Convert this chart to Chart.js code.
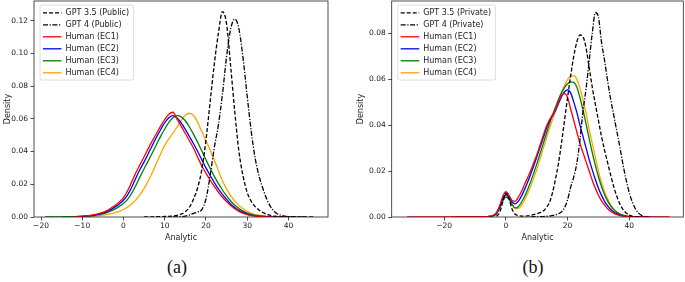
<!DOCTYPE html>
<html>
<head>
<meta charset="utf-8">
<script src="https://cdn.jsdelivr.net/npm/chart.js@4"></script>
<style>
  body { margin: 0; background: #fff; }
  #wrap { position: relative; width: 685px; height: 282px; }
  #chartA { position: absolute; left: 0; top: 0; }
  #chartB { position: absolute; left: 340px; top: 0; }
  .cap { position: absolute; top: 257px; font: 18px "Liberation Serif", serif; color: #111; transform: translateX(-50%); }
</style>
</head>
<body>
<div id="wrap">
  <canvas id="chartA" width="340" height="250"></canvas>
  <canvas id="chartB" width="345" height="250"></canvas>
  <div class="cap" style="left:177px">(a)</div>
  <div class="cap" style="left:533px">(b)</div>
</div>
<script>
//Data (a) public, x grid -19..46

const xL = [];
for (let v = -19; v <= 46; v++) xL.push(v);

const ec1L = [null,null,null,null,null,null,null,
  0.0002,0.0003,0.0005,0.0007,0.0010,0.0014,0.0020,0.0028,0.0040,0.0055,0.0072,0.0092,
  0.0118,0.0160,0.0215,0.0270,0.0320,0.0368,0.0418,0.0465,0.0510,0.0555,0.0595,0.0628,
  0.0640,0.0598,0.0555,0.0510,0.0466,0.0420,0.0365,0.0312,0.0268,0.0226,0.0188,0.0152,
  0.0121,0.0094,0.0070,0.0050,0.0034,0.0023,0.0015,0.0009,0.0006,0.0004,0.0002,0.0001,
  0.0001,0,0,0,0,null,null,null,null,null,null];
const ec2L = [null,null,null,null,null,null,null,
  0.0001,0.0002,0.0004,0.0006,0.0009,0.0012,0.0017,0.0024,0.0034,0.0047,0.0062,0.0080,
  0.0102,0.0135,0.0182,0.0238,0.0290,0.0337,0.0387,0.0437,0.0487,0.0533,0.0576,0.0607,
  0.0620,0.0605,0.0575,0.0535,0.0492,0.0448,0.0400,0.0350,0.0300,0.0255,0.0212,0.0172,
  0.0138,0.0107,0.0080,0.0058,0.0041,0.0028,0.0018,0.0011,0.0007,0.0004,0.0003,0.0002,
  0.0001,0.0001,0,0,0,0,null,null,null,null,null];
const ec3L = [0,0.0001,0.0001,0.0001,0.0001,0.0002,0.0002,
  0.0002,0.0003,0.0004,0.0005,0.0007,0.0010,0.0014,0.0019,0.0027,0.0037,0.0050,0.0065,
  0.0083,0.0108,0.0145,0.0192,0.0245,0.0295,0.0343,0.0393,0.0443,0.0493,0.0538,0.0578,
  0.0606,0.0620,0.0612,0.0588,0.0550,0.0505,0.0455,0.0403,0.0350,0.0298,0.0250,0.0205,
  0.0165,0.0129,0.0098,0.0072,0.0052,0.0036,0.0024,0.0016,0.0010,0.0006,0.0004,0.0002,
  0.0001,0.0001,0,0,0,null,null,null,null,null,null];
const ec4L = [null,null,null,null,null,null,null,
  0.0001,0.0002,0.0002,0.0003,0.0004,0.0006,0.0008,0.0011,0.0015,0.0020,0.0027,0.0035,
  0.0046,0.0060,0.0080,0.0105,0.0137,0.0175,0.0220,0.0272,0.0328,0.0385,0.0438,0.0478,
  0.0512,0.0550,0.0590,0.0622,0.0634,0.0620,0.0578,0.0522,0.0465,0.0410,0.0350,0.0285,
  0.0222,0.0172,0.0130,0.0097,0.0071,0.0050,0.0034,0.0023,0.0015,0.0010,0.0006,0.0004,
  0.0002,0.0001,0,0,0,null,null,null,null,null,null];
const gpt35L = [null,null,null,null,null,null,null,null,null,null,null,null,
  null,null,null,null,null,null,null,null,null,null,null,null,
  0,0.0001,0.0001,0.0002,0.0002,0.0003,0.0004,0.0006,0.0010,0.0018,0.0032,0.0060,
  0.0110,0.0180,0.0290,0.0470,0.0700,0.0930,0.1120,0.1255,0.1180,0.0920,0.0640,0.0400,
  0.0250,0.0150,0.0095,0.0062,0.0040,0.0025,0.0014,0.0007,0.0004,0.0002,0.0001,0.0001,
  0,0,0,0,0,0];
const gpt4L = [null,null,null,null,null,null,null,null,null,null,null,null,null,null,null,
  null,null,null,null,null,null,null,null,null,null,null,null,null,null,null,null,
  0,0.0001,0.0002,0.0005,0.0012,0.0022,0.0030,0.0045,0.0110,0.0250,0.0420,0.0560,
  0.0750,0.0980,0.1150,0.1210,0.1150,0.0970,0.0740,0.0520,0.0350,0.0240,0.0160,0.0095,
  0.0050,0.0025,0.0012,0.0006,0.0003,0.0002,0.0001,0,0,null,null];

const xTicksL = [-20, -10, 0, 10, 20, 30, 40];
const yTicksL = [0, 0.02, 0.04, 0.06, 0.08, 0.10, 0.12];

//------------------------------------------

//Data (b) private

const xR = [-32,-28,-24,-20,-16,-14,-12,-10,-8];
for (let v = -7; v <= 47; v++) xR.push(v);
xR.push(50, 53);

const ec1R = [0,0,0,0,0.0001,0.0001,0.0001,0.0001,0.0001,
  0.0002,0.0002,0.0004,0.0008,0.0020,0.0050,0.0090,
  0.0110,0.0095,0.0072,0.0068,0.0085,0.0110,0.0140,0.0170,0.0200,0.0235,
  0.0270,0.0310,0.0350,0.0390,0.0420,0.0442,0.0465,0.0500,0.0528,0.0537,
  0.0520,0.0470,0.0420,0.0370,0.0320,0.0280,0.0240,0.0200,0.0160,0.0125,
  0.0095,0.0070,0.0052,0.0036,0.0024,0.0016,0.0010,0.0006,0.0004,0.0002,
  0.0001,0.0001,0,0,0,0,0,0,
  0,0];
const ec2R = [null,null,null,null,null,0,0.0001,0.0001,0.0001,
  0.0001,0.0002,0.0003,0.0007,0.0018,0.0045,0.0080,
  0.0098,0.0086,0.0065,0.0057,0.0068,0.0090,0.0118,0.0150,0.0185,0.0222,
  0.0260,0.0300,0.0340,0.0380,0.0415,0.0438,0.0460,0.0492,0.0522,0.0545,
  0.0553,0.0540,0.0500,0.0455,0.0400,0.0350,0.0300,0.0250,0.0205,0.0163,
  0.0125,0.0094,0.0068,0.0048,0.0033,0.0022,0.0014,0.0009,0.0005,0.0003,
  0.0002,0.0001,0,0,0,0,0,0,
  null,null];
const ec3R = [null,null,null,null,null,null,null,0,0.0001,
  0.0001,0.0001,0.0002,0.0005,0.0014,0.0038,0.0070,
  0.0087,0.0078,0.0055,0.0040,0.0045,0.0063,0.0088,0.0118,0.0152,0.0190,
  0.0230,0.0272,0.0315,0.0358,0.0400,0.0440,0.0475,0.0510,0.0540,0.0563,
  0.0580,0.0588,0.0586,0.0565,0.0520,0.0465,0.0405,0.0340,0.0280,0.0225,
  0.0175,0.0132,0.0097,0.0069,0.0047,0.0031,0.0020,0.0012,0.0007,0.0004,
  0.0002,0.0001,0,0,0,0,0,null,
  null,null];
const ec4R = [null,null,null,null,null,null,0,0.0001,0.0001,
  0.0001,0.0002,0.0003,0.0006,0.0016,0.0042,0.0078,
  0.0094,0.0083,0.0055,0.0037,0.0037,0.0050,0.0072,0.0100,0.0132,0.0168,
  0.0207,0.0250,0.0293,0.0337,0.0380,0.0420,0.0460,0.0500,0.0540,0.0573,
  0.0598,0.0612,0.0615,0.0600,0.0560,0.0510,0.0450,0.0380,0.0320,0.0260,
  0.0200,0.0150,0.0110,0.0078,0.0053,0.0035,0.0022,0.0014,0.0008,0.0005,
  0.0003,0.0002,0.0001,0,0,0,0,null,
  null,null];
const gpt35R = [null,null,null,null,null,null,null,null,null,
  null,null,null,null,0.0003,0.0020,0.0065,
  0.0105,0.0080,0.0035,0.0012,0.0006,0.0004,0.0004,0.0005,0.0007,0.0010,
  0.0014,0.0019,0.0025,0.0038,0.0060,0.0100,0.0160,0.0230,0.0320,0.0420,
  0.0520,0.0615,0.0700,0.0762,0.0792,0.0785,0.0735,0.0650,0.0565,0.0490,
  0.0420,0.0350,0.0290,0.0235,0.0180,0.0130,0.0088,0.0055,0.0032,0.0017,
  0.0008,0.0003,0.0001,0,null,null,null,null,
  null,null];
const gpt4R = [null,null,null,null,null,null,null,null,null,
  null,null,null,null,null,null,null,
  null,null,null,null,null,null,null,null,0,0.0001,
  0.0001,0.0002,0.0002,0.0003,0.0004,0.0006,0.0009,0.0014,0.0022,0.0040,
  0.0075,0.0130,0.0175,0.0235,0.0335,0.0460,0.0560,0.0680,0.0800,0.0890,
  0.0870,0.0760,0.0680,0.0590,0.0510,0.0440,0.0370,0.0300,0.0225,0.0160,
  0.0105,0.0065,0.0035,0.0017,0.0007,0.0002,0,null,
  null,null];

const xTicksR = [-20, 0, 20, 40];
const yTicksR = [0, 0.02, 0.04, 0.06, 0.08];

//------------------------------------------

const FONT = 'DejaVu Sans';
const pts = (xs, ys) => xs.map((x, i) => ({x: x, y: ys[i]}));

function makeSets(xs, g35, g4, e1, e2, e3, e4, tag) {
  const base = {pointRadius: 0, borderWidth: 1.3, fill: false, cubicInterpolationMode: 'monotone', spanGaps: false};
  return [
    {...base, label: 'GPT 3.5 (' + tag + ')', data: pts(xs, g35), borderColor: '#000', borderDash: [4, 2]},
    {...base, label: 'GPT 4 (' + tag + ')', data: pts(xs, g4), borderColor: '#000', borderDash: [5, 1.6, 1.2, 1.6]},
    {...base, label: 'Human (EC1)', data: pts(xs, e1), borderColor: '#ff0000'},
    {...base, label: 'Human (EC2)', data: pts(xs, e2), borderColor: '#0000ff'},
    {...base, label: 'Human (EC3)', data: pts(xs, e3), borderColor: '#008000'},
    {...base, label: 'Human (EC4)', data: pts(xs, e4), borderColor: '#ffa500'}
  ];
}

//frame, legend and axis titles plugin (matplotlib look)
const mplBox = {
  id: 'mplBox',
  afterDraw(chart, args, opts) {
    const {ctx, chartArea: {left, top, right, bottom}} = chart;
    ctx.save();
    ctx.strokeStyle = '#222';
    ctx.lineWidth = 0.8;
    ctx.strokeRect(left, top, right - left, bottom - top);

    //legend
    ctx.font = '8px "' + FONT + '"';
    const sets = chart.data.datasets;
    const tw = Math.max(...sets.map(d => ctx.measureText(d.label).width));
    const bx = left + 6, by = top + 4, bw = 30 + tw, bh = 75;
    ctx.beginPath();
    ctx.roundRect(bx, by, bw, bh, 2);
    ctx.fillStyle = 'rgba(255,255,255,0.85)';
    ctx.fill();
    ctx.strokeStyle = '#d5d5d5';
    ctx.lineWidth = 0.8;
    ctx.stroke();
    ctx.textBaseline = 'middle';
    sets.forEach((d, i) => {
      const y = by + 7.8 + i * 12;
      ctx.beginPath();
      ctx.setLineDash(d.borderDash || []);
      ctx.strokeStyle = d.borderColor;
      ctx.lineWidth = d.borderWidth;
      ctx.moveTo(bx + 3, y);
      ctx.lineTo(bx + 21.5, y);
      ctx.stroke();
      ctx.setLineDash([]);
      ctx.fillStyle = '#222';
      ctx.fillText(d.label, bx + 25.5, y);
    });

    //axis titles
    ctx.textAlign = 'center';
    ctx.fillText(opts.xTitle, (left + right) / 2, 238);
    ctx.translate(opts.yTitleX, (top + bottom) / 2);
    ctx.rotate(-Math.PI / 2);
    ctx.fillText(opts.yTitle, 0, 0);
    ctx.restore();
  }
};

function makeConfig(sets, xMin, xMax, yMax, xTicks, yTicks, yAxisW, padRight, yTitleX) {
  const tickFont = {family: FONT, size: 7.5};
  return {
    type: 'line',
    data: {datasets: sets},
    options: {
      responsive: false,
      animation: false,
      devicePixelRatio: 1,
      layout: {padding: {top: 1, right: padRight, left: 0, bottom: 0}},
      scales: {
        x: {
          type: 'linear', min: xMin, max: xMax,
          afterBuildTicks: s => { s.ticks = xTicks.map(v => ({value: v})); },
          afterFit: s => { s.height = 33; s.paddingLeft = 0; s.paddingRight = 0; },
          ticks: {font: tickFont, color: '#222', padding: 1.5, maxRotation: 0, autoSkip: false,
                  callback: v => String(v).replace('-', '\u2212')},
          grid: {drawOnChartArea: false, tickLength: 3.5, color: '#222', tickWidth: 0.8},
          border: {display: false}
        },
        y: {
          type: 'linear', min: 0, max: yMax,
          afterBuildTicks: s => { s.ticks = yTicks.map(v => ({value: v})); },
          afterFit: s => { s.width = yAxisW; s.paddingTop = 0; s.paddingBottom = 0; },
          ticks: {font: tickFont, color: '#222', padding: 2.5, autoSkip: false,
                  callback: v => v.toFixed(2)},
          grid: {drawOnChartArea: false, tickLength: 3.5, color: '#222', tickWidth: 0.8},
          border: {display: false}
        }
      },
      plugins: {
        legend: {display: false},
        tooltip: {enabled: false},
        mplBox: {xTitle: 'Analytic', yTitle: 'Density', yTitleX: yTitleX}
      }
    },
    plugins: [mplBox]
  };
}

//------------------------------------------

//Render both panels
const setsA = makeSets(xL, gpt35L, gpt4L, ec1L, ec2L, ec3L, ec4L, 'Public');
const setsB = makeSets(xR, gpt35R, gpt4R, ec1R, ec2R, ec3R, ec4R, 'Private');

const chartA = new Chart(document.getElementById('chartA'),
  makeConfig(setsA, -21.7, 49.6, 0.132, xTicksL, yTicksL, 34, 12, 8));
const chartB = new Chart(document.getElementById('chartB'),
  makeConfig(setsB, -37, 57.5, 0.094, xTicksR, yTicksR, 51.7, 1.7, 20.7));
</script>
</body>
</html>
